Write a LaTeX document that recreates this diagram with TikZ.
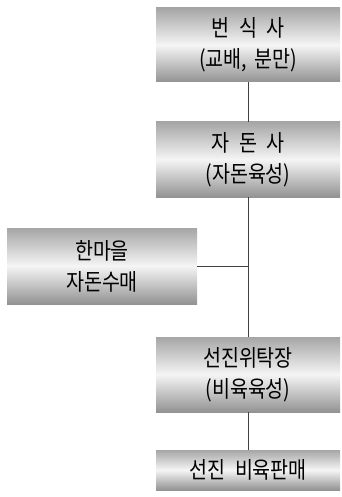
\documentclass[tikz,border=0pt]{standalone}
\usepackage{fontspec}
\setmainfont{Noto Sans CJK KR}[FakeStretch=0.85]
\usepackage{tikz}

\newcommand{\wsp}{\hspace{10pt}}

\tikzset{
  stage/.style={inner sep=0pt, align=center, text=black,
    top color=gray!70, bottom color=gray!85, middle color=gray!8,
    font=\fontsize{23}{31}\selectfont},
  link/.style={draw=black!75, line width=1pt}
}

\begin{document}
\begin{tikzpicture}[x=1pt, y=-1pt]
    \useasboundingbox (0, 0) rectangle (342, 497);

    \node[stage, minimum width=184pt, minimum height=74pt] (breed) at (248, 45) {번\wsp 식\wsp 사\\(교배,\hspace{7pt}분만)};
    \node[stage, minimum width=184pt, minimum height=75pt] (piglet) at (248, 159.5) {자\wsp 돈\wsp 사\\(자돈육성)};
    \node[stage, minimum width=190pt, minimum height=76pt] (village) at (102, 266) {한마을\\자돈수매};
    \node[stage, minimum width=184pt, minimum height=75pt] (farm) at (248, 374.5) {선진위탁장\\(비육육성)};
    \node[stage, minimum width=184pt, minimum height=40pt] (sale) at (248, 470) {선진\wsp 비육판매};

    \coordinate (join) at (piglet.south |- village.east);

    \draw [link] (breed) -- (piglet);
    \draw [link] (piglet) -- (farm);
    \draw [link] (village) -- (join);
    \draw [link] (farm) -- (sale);

\end{tikzpicture}
\end{document}
